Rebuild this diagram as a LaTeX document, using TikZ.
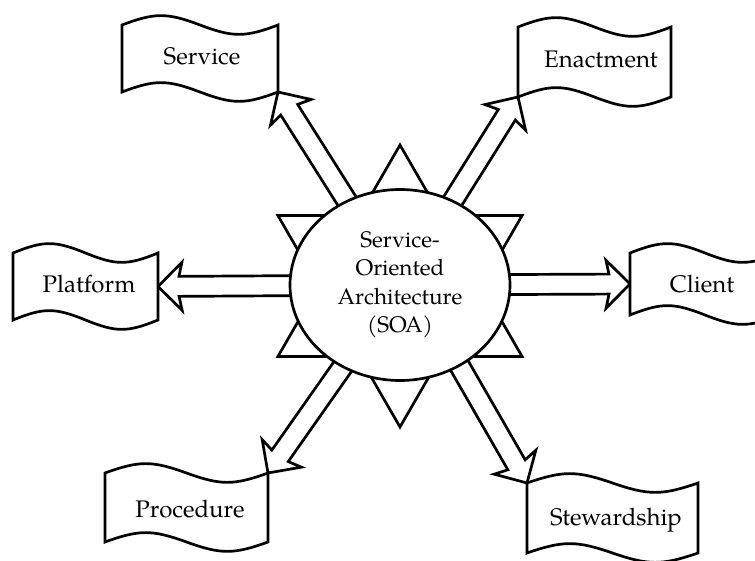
\documentclass[tikz,border=0pt]{standalone}
\usepackage{fontspec}
\setmainfont{TeX Gyre Pagella}
\usetikzlibrary{calc,shapes.geometric}

\pgfdeclarelayer{back}
\pgfsetlayers{back,main}

\tikzset{
  outline/.style={line width=2.7pt, draw=black, fill=white, line join=miter},
  flagline/.style={outline},
  blockarrow/.style={outline},
  labeltext/.style={font=\fontsize{24}{28}\selectfont, inner sep=0pt},
  hub/.style={ellipse, outline, minimum width=220pt, minimum height=191pt,
    inner sep=0pt, align=center, font=\fontsize{22.5}{28.5}\selectfont},
}

% Wavy banner: #1 name, #2 centre x, #3 centre y, #4 width, #5 height,
% #6 text x, #7 text baseline y, #8 text
\newcommand\flagbox[8]{%
  \pgfmathsetmacro\fxl{#2-#4/2}%
  \pgfmathsetmacro\fxr{#2+#4/2}%
  \pgfmathsetmacro\fxm{#2}%
  \pgfmathsetmacro\fyt{#3-#5/2}%
  \pgfmathsetmacro\fyb{#3+#5/2}%
  \pgfmathsetmacro\fc{0.424*#4/2}%
  \draw[flagline] (\fxl,\fyt)
    .. controls ({\fxl+\fc},{\fyt-12.5}) and ({\fxm-\fc},{\fyt-12.5}) .. (\fxm,\fyt)
    .. controls ({\fxm+\fc},{\fyt+12.5}) and ({\fxr-\fc},{\fyt+12.5}) .. (\fxr,\fyt)
    -- (\fxr,\fyb)
    .. controls ({\fxr-\fc},{\fyb+12.5}) and ({\fxm+\fc},{\fyb+12.5}) .. (\fxm,\fyb)
    .. controls ({\fxm-\fc},{\fyb-12.5}) and ({\fxl+\fc},{\fyb-12.5}) .. (\fxl,\fyb)
    -- cycle;
  \coordinate (#1-nw) at (\fxl,\fyt);
  \coordinate (#1-ne) at (\fxr,\fyt);
  \coordinate (#1-sw) at (\fxl,\fyb);
  \coordinate (#1-se) at (\fxr,\fyb);
  \coordinate (#1-w) at (\fxl,#3);
  \coordinate (#1-e) at (\fxr,#3);
  \node[labeltext, anchor=base] (#1) at (#6,#7) {#8};
}

% Hollow block arrow from #1 to its tip at #2
\newcommand\blockarrow[2]{%
  \coordinate (ba-h) at ($(#2)!21pt!(#1)$);
  \coordinate (ba-b) at ($(#2)!24pt!(#1)$);
  \draw[blockarrow]
    ($(#1)!10pt!90:(#2)$) -- ($(ba-h)!10pt!90:(#2)$) --
    ($(ba-b)!24pt!90:(#2)$) -- (#2) --
    ($(ba-b)!24pt!-90:(#2)$) -- ($(ba-h)!10pt!-90:(#2)$) --
    ($(#1)!10pt!-90:(#2)$) -- cycle;
}

\begin{document}
\begin{tikzpicture}[x=1pt, y=-1pt]
  \useasboundingbox (0,0) rectangle (755,561);

  % central ellipse
  \node[hub] (soa) at (400,285) {Service-\\Oriented\\Architecture\\(SOA)};
  \coordinate (soa-se) at (413,285);

  % banners
  \flagbox{service}{200}{58.5}{156}{67}{202}{65}{Service}
  \flagbox{enact}{594.5}{62}{153}{70}{601}{68}{Enactment}
  \flagbox{platform}{85.5}{286.5}{145}{67}{89}{293}{Platform}
  \flagbox{client}{705}{284}{150}{62}{702}{293}{Client}
  \flagbox{proc}{186.5}{507.5}{163}{69}{190}{517}{Procedure}
  \flagbox{steward}{612.5}{518}{171}{70}{616}{525}{Stewardship}

  \begin{pgfonlayer}{back}
    % six-pointed star behind the ellipse
    \draw[outline] (400,145) -- (522.1,356.5) -- (277.9,356.5) -- cycle;
    \draw[outline] (400,427) -- (522.1,215.5) -- (277.9,215.5) -- cycle;
    % arrows out of the centre
    \blockarrow{soa.center}{service-se}
    \blockarrow{soa.center}{enact-sw}
    \blockarrow{soa.center}{platform-e}
    \blockarrow{soa.center}{client-w}
    \blockarrow{soa.center}{proc-ne}
    \blockarrow{soa-se}{steward-nw}
  \end{pgfonlayer}
\end{tikzpicture}
\end{document}
